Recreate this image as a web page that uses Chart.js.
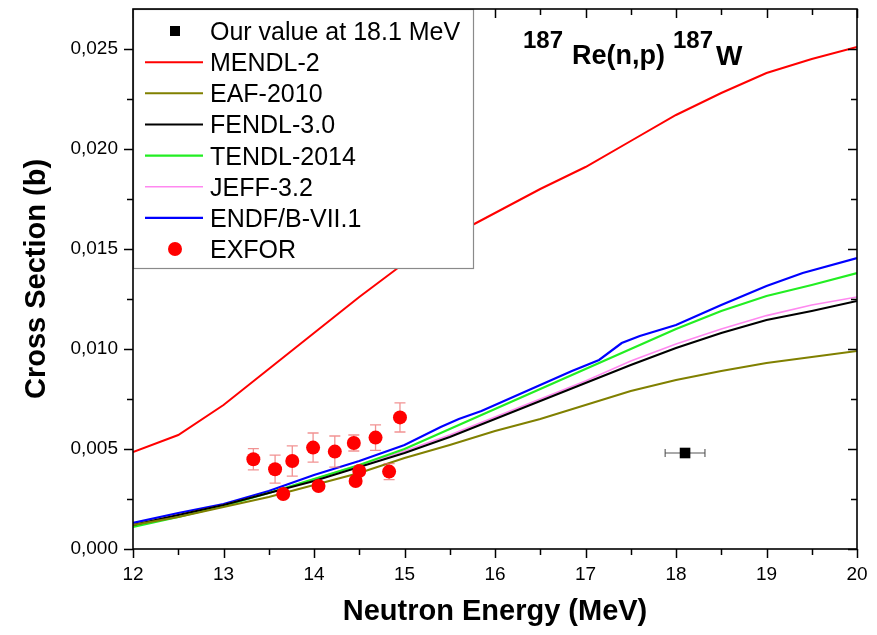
<!DOCTYPE html>
<html>
<head>
<meta charset="utf-8">
<title>187Re(n,p)187W cross section</title>
<script src="https://cdn.jsdelivr.net/npm/chart.js@4.4.1/dist/chart.umd.min.js"></script>
<style>
  html, body { margin: 0; padding: 0; background: #ffffff; }
  #plot { display: block; }
</style>
</head>
<body>
<canvas id="plot" width="877" height="635"></canvas>
<script>
// Evaluated-library energy grid (MeV) shared by most libraries
const energyGrid = [12, 12.5, 13, 13.5, 14, 14.5, 15, 15.5, 16, 16.5, 17, 17.5, 18, 18.5, 19, 19.5, 20];

// Cross sections (b) on energyGrid
const mendl2    = [0.00485, 0.0057, 0.0072, 0.0090, 0.0108, 0.0126, 0.0143, 0.0156, 0.0168, 0.0180, 0.0191, 0.0204, 0.0217, 0.0228, 0.0238, 0.0245, 0.0251];
const eaf2010   = [0.0012, 0.0016, 0.0021, 0.0026, 0.0032, 0.0038, 0.00455, 0.0052, 0.0059, 0.0065, 0.0072, 0.0079, 0.00845, 0.0089, 0.0093, 0.0096, 0.0099];
const fendl30   = [0.0012, 0.0017, 0.0022, 0.0028, 0.0034, 0.0041, 0.0048, 0.0056, 0.0065, 0.0074, 0.0083, 0.0092, 0.01005, 0.0108, 0.01145, 0.0119, 0.0124];
const tendl2014 = [0.0011, 0.0016, 0.00215, 0.0028, 0.0035, 0.0042, 0.0050, 0.0060, 0.0070, 0.0080, 0.0090, 0.0100, 0.0110, 0.0119, 0.01265, 0.0132, 0.0138];
const jeff32    = [0.0012, 0.0017, 0.0022, 0.0028, 0.0035, 0.0042, 0.0049, 0.0057, 0.0066, 0.0075, 0.0084, 0.0094, 0.01025, 0.0110, 0.01167, 0.0122, 0.0126];

// ENDF/B-VII.1 has its own, denser grid
const endfEnergy = [12, 12.5, 13, 13.5, 14, 14.5, 15, 15.4, 15.6, 15.85, 16.05, 16.4, 16.6, 16.85, 17.15, 17.4, 17.6, 18, 18.5, 19, 19.4, 20];
const endfb71    = [0.0013, 0.0018, 0.00225, 0.0029, 0.0037, 0.0044, 0.0052, 0.0061, 0.0065, 0.0069, 0.0073, 0.0080, 0.0084, 0.0089, 0.00945, 0.0103, 0.01065, 0.0112, 0.0122, 0.01315, 0.0138, 0.01455];

// EXFOR experimental points
const exforEnergy = [13.33, 13.57, 13.66, 13.76, 13.99, 14.05, 14.23, 14.44, 14.46, 14.50, 14.68, 14.83, 14.95];
const exforXs     = [0.00449, 0.00399, 0.00275, 0.00440, 0.00507, 0.00315, 0.00487, 0.00530, 0.00340, 0.00390, 0.00557, 0.00387, 0.00658];
const exforErr    = [0.00053, 0.00070, 0.00015, 0.00076, 0.00073, 0.00015, 0.00078, 0.00040, 0.00015, 0.00020, 0.00064, 0.00040, 0.00073];

// This measurement
const ourEnergy    = [18.1];
const ourXs        = [0.0048];
const ourEnergyErr = [0.22];

// Axis ticks
const xMajorTicks = [12, 13, 14, 15, 16, 17, 18, 19, 20];
const yMajorTicks = [0, 0.005, 0.010, 0.015, 0.020, 0.025];
const yTickLabels = ['0,000', '0,005', '0,010', '0,015', '0,020', '0,025'];

const FONT = "'Liberation Sans', Arial, Helvetica, sans-serif";

const toPoints = (xs, ys) => xs.map((x, i) => ({ x: x, y: ys[i] }));

function curve(label, xs, ys, color, width) {
  return {
    label: label,
    data: toPoints(xs, ys),
    showLine: true,
    borderColor: color,
    backgroundColor: color,
    borderWidth: width,
    pointRadius: 0,
    pointHoverRadius: 0,
    tension: 0,
    legendKind: 'line'
  };
}

const datasets = [
  {
    label: 'Our value at 18.1 MeV',
    data: toPoints(ourEnergy, ourXs),
    showLine: false,
    pointStyle: 'rect',
    pointRadius: 7.5,
    pointBackgroundColor: '#000000',
    pointBorderWidth: 0,
    borderColor: '#000000',
    xErrors: ourEnergyErr,
    order: -2,
    legendKind: 'rect'
  },
  curve('MENDL-2', energyGrid, mendl2, '#ff0000', 2),
  curve('EAF-2010', energyGrid, eaf2010, '#808000', 2),
  curve('FENDL-3.0', energyGrid, fendl30, '#000000', 2),
  curve('TENDL-2014', energyGrid, tendl2014, '#22ee22', 2.2),
  curve('JEFF-3.2', energyGrid, jeff32, '#ff88f0', 1.6),
  curve('ENDF/B-VII.1', endfEnergy, endfb71, '#0000ff', 2.2),
  {
    label: 'EXFOR',
    data: toPoints(exforEnergy, exforXs),
    showLine: false,
    pointStyle: 'circle',
    pointRadius: 7,
    pointBackgroundColor: '#ff0000',
    pointBorderWidth: 0,
    borderColor: '#ff0000',
    yErrors: exforErr,
    order: -1,
    legendKind: 'circle'
  }
];

// Error bars, drawn just before their own markers
const errorBars = {
  id: 'errorBars',
  beforeDatasetDraw(chart, args) {
    const ds = chart.data.datasets[args.index];
    const { ctx, scales: { x, y } } = chart;
    if (ds.yErrors) {
      ctx.save();
      ctx.strokeStyle = 'rgba(235, 100, 100, 0.7)';
      ctx.lineWidth = 1.3;
      ds.data.forEach((p, i) => {
        const e = ds.yErrors[i];
        const px = x.getPixelForValue(p.x);
        const top = y.getPixelForValue(p.y + e);
        const bot = y.getPixelForValue(p.y - e);
        ctx.beginPath();
        ctx.moveTo(px, top); ctx.lineTo(px, bot);
        ctx.moveTo(px - 5.5, top); ctx.lineTo(px + 5.5, top);
        ctx.moveTo(px - 5.5, bot); ctx.lineTo(px + 5.5, bot);
        ctx.stroke();
      });
      ctx.restore();
    }
    if (ds.xErrors) {
      ctx.save();
      ctx.strokeStyle = '#555555';
      ctx.lineWidth = 1.1;
      ds.data.forEach((p, i) => {
        const e = ds.xErrors[i];
        const py = y.getPixelForValue(p.y);
        const l = x.getPixelForValue(p.x - e);
        const r = x.getPixelForValue(p.x + e);
        ctx.beginPath();
        ctx.moveTo(l, py); ctx.lineTo(r, py);
        ctx.moveTo(l, py - 4); ctx.lineTo(l, py + 4);
        ctx.moveTo(r, py - 4); ctx.lineTo(r, py + 4);
        ctx.stroke();
      });
      ctx.restore();
    }
  }
};

// Frame, tick marks on all four sides, in-plot legend and reaction label
const decorations = {
  id: 'decorations',
  afterDraw(chart) {
    const { ctx, chartArea: a, scales: { x, y } } = chart;
    ctx.save();

    // tick marks: outward on bottom/left, inward on top/right
    ctx.strokeStyle = '#000000';
    ctx.lineWidth = 1.5;
    ctx.beginPath();
    const xStep = xMajorTicks[1] - xMajorTicks[0];
    xMajorTicks.forEach((v, i) => {
      const marks = [[v, 9]];
      if (i < xMajorTicks.length - 1) marks.push([v + xStep / 2, 6]);
      marks.forEach(([val, len]) => {
        const px = Math.round(x.getPixelForValue(val)) + 0.5;
        ctx.moveTo(px, a.bottom); ctx.lineTo(px, a.bottom + len);
        ctx.moveTo(px, a.top); ctx.lineTo(px, a.top + len);
      });
    });
    const yStep = yMajorTicks[1] - yMajorTicks[0];
    yMajorTicks.forEach((v) => {
      [[v, 9], [v + yStep / 2, 6]].forEach(([val, len]) => {
        const py = Math.round(y.getPixelForValue(val)) + 0.5;
        if (py < a.top) return;
        ctx.moveTo(a.left, py); ctx.lineTo(a.left - len, py);
        ctx.moveTo(a.right, py); ctx.lineTo(a.right - len, py);
      });
    });
    ctx.stroke();

    // legend box
    const box = { l: a.left, t: a.top, w: 340, h: 259 };
    ctx.fillStyle = '#ffffff';
    ctx.fillRect(box.l, box.t, box.w, box.h);
    ctx.strokeStyle = '#8a8a8a';
    ctx.lineWidth = 1.2;
    ctx.strokeRect(box.l + 0.5, box.t + 0.5, box.w, box.h);

    const rowStep = 31.15;
    const symX0 = box.l + 12, symX1 = box.l + 70, symMid = box.l + 42;
    const textX = box.l + 77;
    ctx.font = '25px ' + FONT;
    ctx.textAlign = 'left';
    ctx.textBaseline = 'alphabetic';
    chart.data.datasets.forEach((ds, i) => {
      const cy = box.t + 22 + i * rowStep;
      if (ds.legendKind === 'line') {
        ctx.strokeStyle = ds.borderColor;
        ctx.lineWidth = ds.borderWidth;
        ctx.beginPath();
        ctx.moveTo(symX0, cy); ctx.lineTo(symX1, cy);
        ctx.stroke();
      } else if (ds.legendKind === 'rect') {
        ctx.fillStyle = ds.pointBackgroundColor;
        ctx.fillRect(symMid - 5, cy - 5, 10, 10);
      } else if (ds.legendKind === 'circle') {
        ctx.fillStyle = ds.pointBackgroundColor;
        ctx.beginPath();
        ctx.arc(symMid, cy, 7, 0, Math.PI * 2);
        ctx.fill();
      }
      ctx.fillStyle = '#000000';
      ctx.fillText(ds.label, textX, cy + 9);
    });

    // plot frame
    ctx.strokeStyle = '#000000';
    ctx.lineWidth = 1.6;
    ctx.strokeRect(a.left, a.top, a.right - a.left, a.bottom - a.top);

    // reaction label with mass-number superscripts
    ctx.fillStyle = '#000000';
    ctx.textBaseline = 'alphabetic';
    ctx.font = 'bold 24px ' + FONT;
    ctx.fillText('187', 523, 48);
    ctx.font = 'bold 27px ' + FONT;
    ctx.fillText('Re(n,p)', 572, 64);
    ctx.font = 'bold 24px ' + FONT;
    ctx.fillText('187', 673, 48);
    ctx.font = 'bold 28px ' + FONT;
    ctx.fillText('W', 716, 65);

    ctx.restore();
  }
};

new Chart(document.getElementById('plot'), {
  type: 'scatter',
  data: { datasets: datasets },
  options: {
    responsive: false,
    animation: false,
    devicePixelRatio: 1,
    layout: { padding: { top: 9, right: 20, left: 0, bottom: 0 } },
    plugins: {
      legend: { display: false },
      tooltip: { enabled: false }
    },
    scales: {
      x: {
        type: 'linear',
        min: 12,
        max: 20,
        afterFit(scale) { scale.height = 86; },
        afterBuildTicks(scale) { scale.ticks = xMajorTicks.map(v => ({ value: v })); },
        grid: { display: false, drawTicks: true, tickLength: 17 },
        border: { display: false },
        ticks: {
          padding: 0,
          color: '#000000',
          maxRotation: 0,
          font: { family: FONT, size: 19, lineHeight: 0.9 },
          callback: (v) => String(v)
        },
        title: {
          display: true,
          text: 'Neutron Energy (MeV)',
          color: '#000000',
          font: { family: FONT, size: 29, weight: 'bold' },
          padding: { top: 0, bottom: 6 }
        }
      },
      y: {
        type: 'linear',
        min: 0,
        max: 0.027,
        afterFit(scale) { scale.width = 133; },
        afterBuildTicks(scale) { scale.ticks = yMajorTicks.map(v => ({ value: v })); },
        grid: { display: false, drawTicks: true, tickLength: 15 },
        border: { display: false },
        ticks: {
          padding: 0,
          color: '#000000',
          font: { family: FONT, size: 19, lineHeight: 0.9 },
          callback: (v, i) => yTickLabels[i]
        },
        title: {
          display: true,
          text: 'Cross Section (b)',
          color: '#000000',
          font: { family: FONT, size: 29, weight: 'bold' },
          padding: { top: 20, bottom: 0 }
        }
      }
    }
  },
  plugins: [errorBars, decorations]
});
</script>
</body>
</html>
